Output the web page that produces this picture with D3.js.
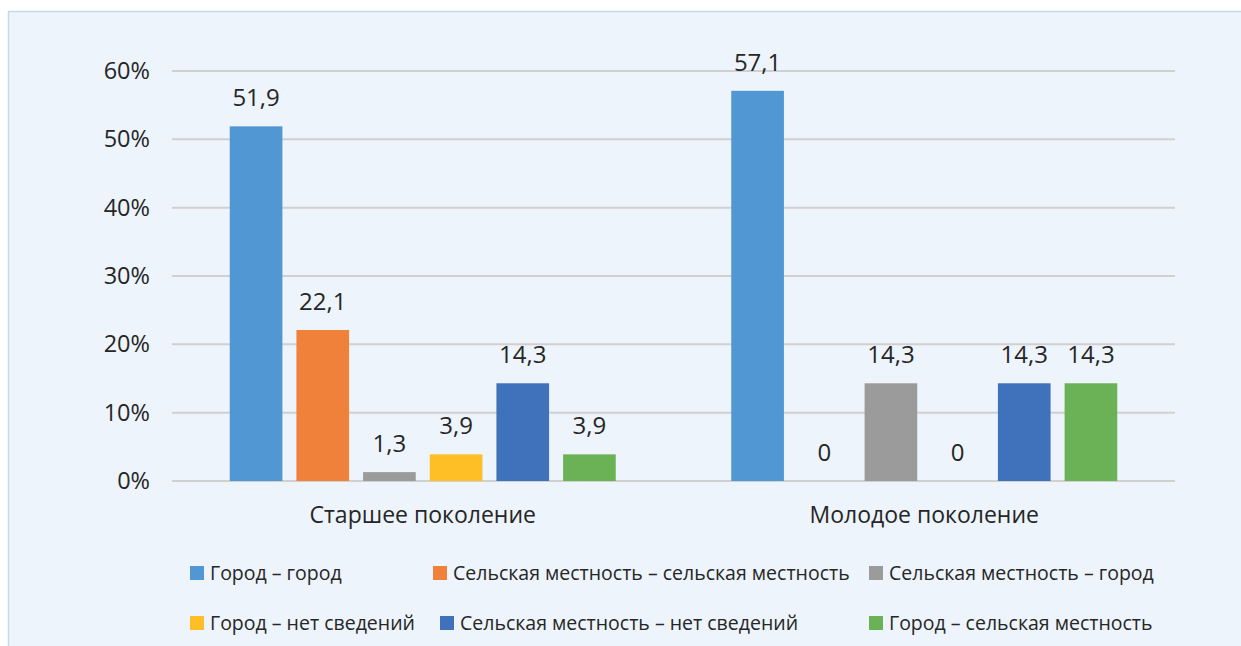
<!DOCTYPE html>
<html>
<head>
<meta charset="utf-8">
<script src="https://d3js.org/d3.v7.min.js"></script>
<style>
  body { margin: 0; background: #fff; }
  svg text { font-family: "Open Sans", "Noto Sans", sans-serif; fill: #262626; }
</style>
</head>
<body>
<script>
// chart data
const groups = ["Старшее поколение", "Молодое поколение"];
const seriesNames = [
  "Город – город",
  "Сельская местность – сельская местность",
  "Сельская местность – город",
  "Город – нет сведений",
  "Сельская местность – нет сведений",
  "Город – сельская местность"
];
const olderValues = [51.9, 22.1, 1.3, 3.9, 14.3, 3.9];
const youngerValues = [57.1, 0, 14.3, 0, 14.3, 14.3];
const yTicks = [0, 10, 20, 30, 40, 50, 60];
const colors = ["#5097d3", "#f0813b", "#9b9b9b", "#fdbf25", "#4071bb", "#6bb256"];

const W = 1241, H = 646;
const margin = {top: 71, right: 66, bottom: 165, left: 172};
const width = W - margin.left - margin.right,
      height = H - margin.top - margin.bottom;

const svg = d3.select("body").append("svg")
    .attr("width", W)
    .attr("height", H);

// panel background
svg.append("rect")
    .attr("x", 8.5).attr("y", 11.5)
    .attr("width", W).attr("height", H)
    .attr("fill", "#edf4fb")
    .attr("stroke", "#c4d9ee")
    .attr("stroke-width", 1.5);

const g = svg.append("g")
    .attr("transform", "translate(" + margin.left + "," + margin.top + ")");

const x0 = d3.scaleBand().domain(groups).range([0, width]).padding(0);
const inner = 386;
const x1 = d3.scaleBand().domain(d3.range(seriesNames.length))
    .range([(x0.bandwidth() - inner) / 2, (x0.bandwidth() + inner) / 2])
    .paddingInner(0.21).paddingOuter(0);
const y = d3.scaleLinear().domain([0, 60]).range([height, 0]);

// gridlines
g.selectAll("line.grid").data(yTicks).enter()
    .append("line")
    .attr("class", "grid")
    .attr("x1", 0).attr("x2", width)
    .attr("y1", d => y(d)).attr("y2", d => y(d))
    .attr("stroke", "#d0d0d0")
    .attr("stroke-width", 2);

// y axis labels
const yAxis = d3.axisLeft(y).tickValues(yTicks).tickFormat(d => d + "%").tickSize(0).tickPadding(22);
const ya = g.append("g").call(yAxis);
ya.select(".domain").remove();
ya.selectAll("text").attr("font-size", 23.5).attr("fill", "#262626")
    .style("font-family", "'Open Sans', 'Noto Sans', sans-serif");

const data = groups.map((grp, gi) => ({
  group: grp,
  values: (gi === 0 ? olderValues : youngerValues).map((v, i) => ({i: i, v: v}))
}));

const gg = g.selectAll("g.group").data(data).enter()
    .append("g")
    .attr("class", "group")
    .attr("transform", d => "translate(" + x0(d.group) + ",0)");

gg.selectAll("rect").data(d => d.values).enter()
    .append("rect")
    .attr("x", d => x1(d.i))
    .attr("width", x1.bandwidth())
    .attr("y", d => y(d.v))
    .attr("height", d => y(0) - y(d.v))
    .attr("fill", d => colors[d.i]);

gg.selectAll("text.val").data(d => d.values).enter()
    .append("text")
    .attr("class", "val")
    .attr("x", d => x1(d.i) + x1.bandwidth() / 2)
    .attr("y", d => y(d.v) - 20)
    .attr("text-anchor", "middle")
    .attr("font-size", 24)
    .text(d => String(d.v).replace(".", ","));

// category labels
g.selectAll("text.cat").data(groups).enter()
    .append("text")
    .attr("class", "cat")
    .attr("x", d => x0(d) + x0.bandwidth() / 2)
    .attr("y", height + 42)
    .attr("text-anchor", "middle")
    .attr("font-size", 23)
    .text(d => d);

// legend
const legendPos = [[190, 573], [433, 573], [869, 573], [190, 623], [440, 623], [869, 623]];
const lg = svg.selectAll("g.legend").data(seriesNames).enter()
    .append("g")
    .attr("class", "legend")
    .attr("transform", (d, i) => "translate(" + legendPos[i][0] + "," + legendPos[i][1] + ")");
lg.append("rect")
    .attr("x", 0).attr("y", -7)
    .attr("width", 14).attr("height", 14)
    .attr("fill", (d, i) => colors[i]);
lg.append("text")
    .attr("x", 20)
    .attr("y", 0)
    .attr("dy", "0.35em")
    .attr("font-size", 19.5)
    .text(d => d);
</script>
</body>
</html>
